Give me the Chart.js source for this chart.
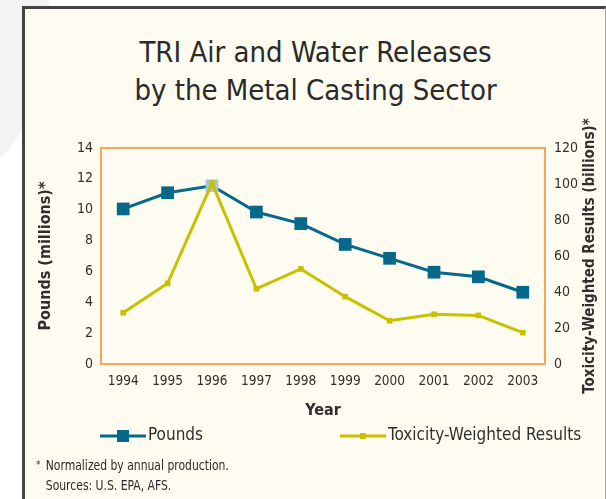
<!DOCTYPE html>
<html lang="en">
<head>
    <meta charset="UTF-8">
    <title>TRI Air and Water Releases by the Metal Casting Sector</title>
    <style>
        html, body {
            margin: 0;
            padding: 0;
            background: #ffffff;
            overflow: hidden;
        }
        .page {
            position: relative;
            width: 606px;
            height: 499px;
            overflow: hidden;
        }
        .shade {
            position: absolute;
            left: -300px;
            top: -90px;
            width: 342px;
            height: 300px;
            border-radius: 50%;
            background: #f3f3f3;
        }
        .shade.top {
            left: 25px;
            top: -20px;
            width: 24px;
            height: 30px;
            border-radius: 0;
        }
        .panel {
            position: absolute;
            left: 22px;
            top: 6px;
            width: 580px;
            height: 520px;
            background: #fefcf0;
            border-left: 3px solid #454545;
            border-top: 3px solid #454545;
            border-right: 1px solid #a8a8a0;
        }
        .title {
            position: absolute;
            left: 25px;
            right: 0;
            top: 33px;
            text-align: center;
            font-family: 'DejaVu Sans Condensed', sans-serif;
            font-size: 29px;
            line-height: 38px;
            color: #2a2a2a;
        }
        .note {
            position: absolute;
            left: 36px;
            top: 455px;
            font-family: 'DejaVu Sans Condensed', sans-serif;
            font-size: 13.5px;
            line-height: 20px;
            color: #2a2a2a;
            transform: scaleX(0.89);
            transform-origin: left top;
        }
        .note span {
            display: inline-block;
            width: 11px;
            vertical-align: top;
            font-size: 11px;
        }
        canvas {
            position: absolute;
            left: 0;
            top: 0;
        }
    </style>
</head>
<body>
<div class="page">
    <div class="shade"></div>
    <div class="shade top"></div>
    <div class="panel"></div>
    <div class="title">TRI Air and Water Releases<br>by the Metal Casting Sector</div>
    <canvas id="releases" width="606" height="499"></canvas>
    <div class="note"><span>*</span>Normalized by annual production.<br><span></span>Sources: U.S. EPA, AFS.</div>
</div>

<script src="https://cdn.jsdelivr.net/npm/chart.js"></script>
<script>
    // Years and the two series (pounds in millions, toxicity-weighted in billions)
    const years = ['1994', '1995', '1996', '1997', '1998', '1999', '2000', '2001', '2002', '2003'];
    const pounds = [10.05, 11.1, 11.55, 9.85, 9.1, 7.75, 6.85, 5.95, 5.65, 4.65];
    const toxicity = [28.5, 44.8, 100.5, 41.8, 52.8, 37.4, 24, 27.6, 27, 17.4];
    const poundsTicks = [0, 2, 4, 6, 8, 10, 12, 14];
    const toxicityTicks = [0, 20, 40, 60, 80, 100, 120];

    const FONT = "'DejaVu Sans Condensed', sans-serif";
    const BLUE = '#06698c';
    const YELLOW = '#c9c000';
    const ORANGE = '#f6a65c';
    const TEXT = '#2f2f2f';
    const RIGHT_TITLE = 'Toxicity-Weighted Results (billions)*';

    // the 1996 pounds marker is shown pale
    const poundsPointColors = pounds.map((v, i) => years[i] === '1996' ? '#aac4de' : BLUE);

    // legend with a line through the marker, like the print version
    const lineLegend = {
        id: 'lineLegend',
        afterDraw(chart) {
            const ctx = chart.ctx;
            const items = [
                { x: 100, w: 46, label: 'Pounds', color: BLUE, box: 12 },
                { x: 340, w: 46, label: 'Toxicity-Weighted Results', color: YELLOW, box: 6 }
            ];
            const y = 436;
            ctx.save();
            items.forEach(it => {
                ctx.strokeStyle = it.color;
                ctx.lineWidth = 3;
                ctx.beginPath();
                ctx.moveTo(it.x, y);
                ctx.lineTo(it.x + it.w, y);
                ctx.stroke();
                ctx.fillStyle = it.color;
                ctx.fillRect(it.x + it.w / 2 - it.box / 2, y - it.box / 2, it.box, it.box);
                ctx.fillStyle = TEXT;
                ctx.font = '17px ' + FONT;
                ctx.textBaseline = 'middle';
                ctx.fillText(it.label, it.x + it.w + 2, y);
            });
            ctx.restore();
        }
    };

    // orange frame around the plot area, plus the right axis title read bottom-up
    const plotFrame = {
        id: 'plotFrame',
        beforeDatasetsDraw(chart) {
            const a = chart.chartArea;
            const ctx = chart.ctx;
            ctx.save();
            ctx.strokeStyle = ORANGE;
            ctx.lineWidth = 2;
            ctx.strokeRect(a.left, a.top, a.right - a.left, a.bottom - a.top);
            ctx.restore();

            const s = chart.scales.y1;
            ctx.save();
            ctx.translate(s.right - 16, (a.top + a.bottom) / 2);
            ctx.rotate(-Math.PI / 2);
            ctx.fillStyle = TEXT;
            ctx.font = 'bold 15px ' + FONT;
            ctx.textAlign = 'center';
            ctx.textBaseline = 'middle';
            ctx.fillText(RIGHT_TITLE, 0, 0);
            ctx.restore();
        }
    };

    const ctx = document.getElementById('releases').getContext('2d');
    new Chart(ctx, {
        type: 'line',
        data: {
            labels: years,
            datasets: [
                {
                    label: 'Pounds',
                    data: pounds,
                    yAxisID: 'y',
                    borderColor: BLUE,
                    borderWidth: 3,
                    pointStyle: 'rect',
                    pointRadius: 9,
                    pointBackgroundColor: poundsPointColors,
                    pointBorderColor: poundsPointColors,
                    pointBorderWidth: 0,
                    tension: 0,
                    order: 2
                },
                {
                    label: 'Toxicity-Weighted Results',
                    data: toxicity,
                    yAxisID: 'y1',
                    borderColor: YELLOW,
                    borderWidth: 3,
                    pointStyle: 'rect',
                    pointRadius: 4,
                    pointBackgroundColor: YELLOW,
                    pointBorderColor: YELLOW,
                    pointBorderWidth: 0,
                    tension: 0,
                    order: 1
                }
            ]
        },
        options: {
            responsive: false,
            animation: false,
            layout: {
                padding: { left: 25, top: 148, right: 0, bottom: 79 }
            },
            plugins: {
                legend: { display: false },
                tooltip: { enabled: false }
            },
            scales: {
                x: {
                    offset: true,
                    grid: { display: false, drawTicks: false },
                    border: { display: false },
                    ticks: {
                        color: TEXT,
                        font: { family: FONT, size: 13.5 },
                        padding: 9,
                        maxRotation: 0
                    },
                    title: {
                        display: true,
                        text: 'Year',
                        color: TEXT,
                        font: { family: FONT, size: 16, weight: 'bold' },
                        padding: 0
                    },
                    afterFit(scale) { scale.height = 56; }
                },
                y: {
                    position: 'left',
                    min: 0,
                    max: 14,
                    afterBuildTicks(scale) { scale.ticks = poundsTicks.map(v => ({ value: v })); },
                    grid: { display: false, drawOnChartArea: false, drawTicks: true, tickLength: 5, color: ORANGE, lineWidth: 2 },
                    border: { display: false },
                    ticks: {
                        color: TEXT,
                        font: { family: FONT, size: 14 },
                        padding: 3
                    },
                    title: {
                        display: true,
                        text: 'Pounds (millions)*',
                        color: TEXT,
                        font: { family: FONT, size: 16, weight: 'bold' },
                        padding: { top: 11, bottom: 0 }
                    },
                    afterFit(scale) { scale.width = 76; }
                },
                y1: {
                    position: 'right',
                    min: 0,
                    max: 120,
                    afterBuildTicks(scale) { scale.ticks = toxicityTicks.map(v => ({ value: v })); },
                    grid: { display: false, drawOnChartArea: false, drawTicks: true, tickLength: 5, color: ORANGE, lineWidth: 2 },
                    border: { display: false },
                    ticks: {
                        color: TEXT,
                        font: { family: FONT, size: 14 },
                        padding: 4
                    },
                    title: { display: false },
                    afterFit(scale) { scale.width = 61; }
                }
            }
        },
        plugins: [plotFrame, lineLegend]
    });
</script>
</body>
</html>
